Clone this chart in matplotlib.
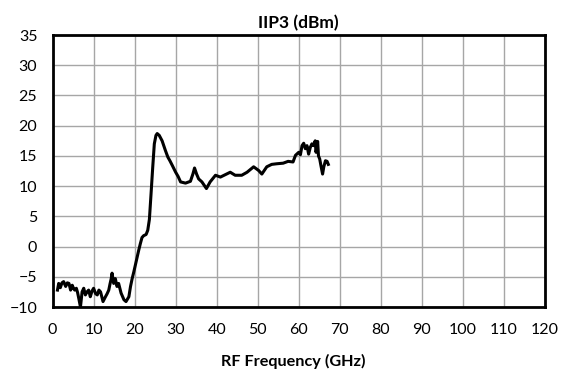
import matplotlib
matplotlib.use("Agg")
import matplotlib.pyplot as plt

plt.rcParams["font.family"] = ["Lato", "DejaVu Sans"]

# IIP3 vs RF frequency
freq_ghz = [1.2, 1.5, 1.9, 2.3, 2.7, 3.2, 3.6, 4.0, 4.4, 4.8, 5.1, 5.4, 5.8,
            6.1, 6.4, 6.8, 7.2, 7.6, 8.0, 8.4, 8.8, 9.2, 9.6, 10.0, 10.5,
            10.9, 11.3, 11.7, 12.3, 12.9, 13.3, 13.7, 14.0, 14.3, 14.5, 14.9,
            15.3, 15.7, 16.1, 16.7, 17.4, 17.9, 18.6, 19.0, 19.4, 19.8, 20.2,
            20.6, 21.0, 21.4, 21.8, 22.2, 22.8, 23.2, 23.6, 24.0, 24.4, 24.8,
            25.2, 25.5, 26.0, 26.7, 27.5, 28.1, 28.6, 29.2, 30.0, 30.6, 31.2,
            32.4, 33.6, 34.2, 34.6, 35.1, 35.6, 36.4, 37.5, 38.4, 39.7, 40.9,
            42.1, 43.3, 44.5, 46.1, 47.4, 49.0, 50.2, 51.0, 52.2, 53.4, 54.6,
            56.2, 57.4, 58.6, 59.2, 60.0, 60.4, 60.8, 61.2, 61.6, 62.0, 62.4,
            62.8, 63.2, 63.6, 64.0, 64.2, 64.4, 64.6, 64.8, 65.1, 65.4, 65.8,
            66.1, 66.5, 66.9, 67.2]
iip3_dbm = [-7.2, -6.1, -6.8, -6.0, -5.8, -6.6, -6.0, -6.1, -7.2, -6.4, -6.9,
            -7.2, -6.9, -7.6, -8.6, -10.0, -7.5, -6.9, -8.0, -7.5, -7.2, -8.3,
            -7.4, -6.9, -7.8, -8.0, -7.2, -7.5, -9.1, -8.3, -7.8, -7.2, -6.2,
            -5.3, -4.4, -6.1, -5.3, -6.6, -6.1, -7.7, -8.8, -9.1, -8.3, -6.6,
            -5.3, -4.2, -3.0, -1.8, -0.6, 0.5, 1.5, 1.8, 2.0, 2.7, 4.5, 8.7,
            13.0, 17.0, 18.4, 18.7, 18.4, 17.5, 15.9, 14.8, 14.2, 13.4, 12.3,
            11.6, 10.7, 10.5, 10.8, 12.0, 13.0, 12.0, 11.2, 10.7, 9.6, 10.7,
            11.8, 11.5, 11.9, 12.3, 11.8, 11.8, 12.3, 13.2, 12.6, 12.0, 13.2,
            13.6, 13.7, 13.8, 14.1, 14.0, 15.1, 15.6, 15.2, 16.7, 17.1, 16.2,
            16.7, 15.3, 16.4, 17.0, 16.7, 17.5, 15.6, 16.4, 17.4, 15.0, 14.5,
            13.4, 12.0, 13.2, 14.2, 14.1, 13.6]

x_ticks = list(range(0, 121, 10))
y_ticks = list(range(-10, 36, 5))

fig = plt.figure(figsize=(5.65, 3.71), dpi=100)
ax = fig.add_axes([0.093, 0.1725, 0.8716, 0.733])

ax.plot(freq_ghz, iip3_dbm, color="black", linewidth=2.2, solid_joinstyle="round")

ax.set_xlim(0, 120)
ax.set_ylim(-10, 35)
ax.set_xticks(x_ticks)
ax.set_yticks(y_ticks)
ax.grid(True, color="#a6a6a6", linewidth=1.0)
ax.set_axisbelow(True)
ax.tick_params(length=0, labelsize=11.5)
ax.tick_params(axis="x", pad=11.5)
ax.tick_params(axis="y", pad=11)
for s in ax.spines.values():
    s.set_linewidth(2.0)
    s.set_color("black")

ax.set_title("IIP3 (dBm)", fontsize=12.5, fontweight="bold", pad=5)
ax.set_xlabel("RF Frequency (GHz)", fontsize=11.7, fontweight="bold",
              labelpad=12, x=0.488)

fig.savefig("out.png", dpi=100)
